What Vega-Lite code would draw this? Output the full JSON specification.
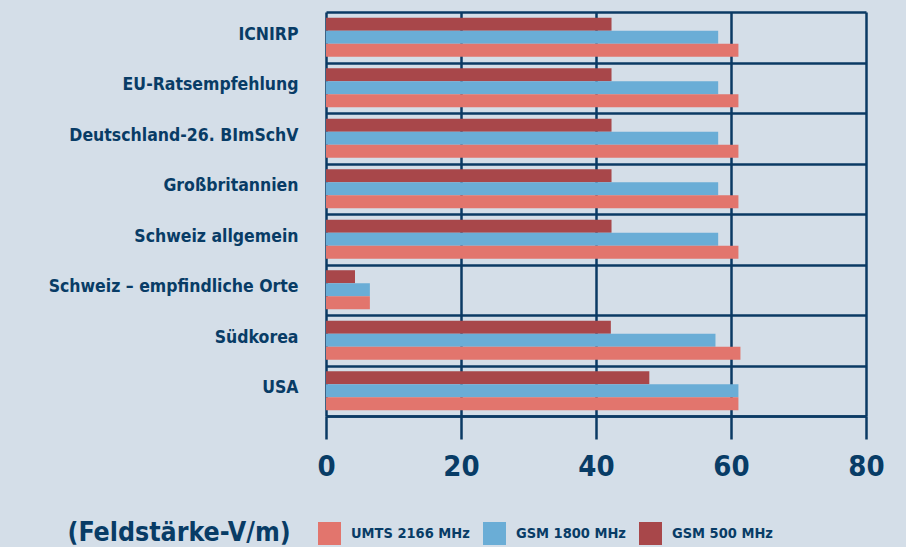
{
  "$schema": "https://vega.github.io/schema/vega-lite/v6.json",
  "width": 540,
  "height": 404,
  "autosize": {"type": "none"},
  "padding": {"left": 326, "top": 12, "right": 40, "bottom": 131},
  "background": "#d4dee8",
  "config": {
    "view": {"stroke": null},
    "font": "DejaVu Sans Condensed"
  },
  "data": {
    "values": [
      {"land": "ICNIRP", "band": "GSM 500 MHz", "v": 42.3},
      {"land": "ICNIRP", "band": "GSM 1800 MHz", "v": 58.1},
      {"land": "ICNIRP", "band": "UMTS 2166 MHz", "v": 61.1},
      {"land": "EU-Ratsempfehlung", "band": "GSM 500 MHz", "v": 42.3},
      {"land": "EU-Ratsempfehlung", "band": "GSM 1800 MHz", "v": 58.1},
      {"land": "EU-Ratsempfehlung", "band": "UMTS 2166 MHz", "v": 61.1},
      {"land": "Deutschland-26. BImSchV", "band": "GSM 500 MHz", "v": 42.3},
      {"land": "Deutschland-26. BImSchV", "band": "GSM 1800 MHz", "v": 58.1},
      {"land": "Deutschland-26. BImSchV", "band": "UMTS 2166 MHz", "v": 61.1},
      {"land": "Großbritannien", "band": "GSM 500 MHz", "v": 42.3},
      {"land": "Großbritannien", "band": "GSM 1800 MHz", "v": 58.1},
      {"land": "Großbritannien", "band": "UMTS 2166 MHz", "v": 61.1},
      {"land": "Schweiz allgemein", "band": "GSM 500 MHz", "v": 42.3},
      {"land": "Schweiz allgemein", "band": "GSM 1800 MHz", "v": 58.1},
      {"land": "Schweiz allgemein", "band": "UMTS 2166 MHz", "v": 61.1},
      {"land": "Schweiz – empfindliche Orte", "band": "GSM 500 MHz", "v": 4.3},
      {"land": "Schweiz – empfindliche Orte", "band": "GSM 1800 MHz", "v": 6.5},
      {"land": "Schweiz – empfindliche Orte", "band": "UMTS 2166 MHz", "v": 6.5},
      {"land": "Südkorea", "band": "GSM 500 MHz", "v": 42.2},
      {"land": "Südkorea", "band": "GSM 1800 MHz", "v": 57.7},
      {"land": "Südkorea", "band": "UMTS 2166 MHz", "v": 61.4},
      {"land": "USA", "band": "GSM 500 MHz", "v": 47.9},
      {"land": "USA", "band": "GSM 1800 MHz", "v": 61.1},
      {"land": "USA", "band": "UMTS 2166 MHz", "v": 61.1}
    ]
  },
  "mark": {"type": "bar", "cornerRadius": 0},
  "encoding": {
    "y": {
      "field": "land",
      "type": "nominal",
      "sort": ["ICNIRP", "EU-Ratsempfehlung", "Deutschland-26. BImSchV", "Großbritannien", "Schweiz allgemein", "Schweiz – empfindliche Orte", "Südkorea", "USA"],
      "scale": {"paddingInner": 0, "paddingOuter": 0},
      "axis": {
        "title": null,
        "domain": false,
        "ticks": false,
        "tickBand": "extent",
        "grid": true,
        "gridColor": "#0b3a64",
        "gridWidth": 2.5,
        "gridOpacity": 1,
        "labelFont": "DejaVu Sans Condensed",
        "labelFontWeight": "bold",
        "labelFontSize": 17.5,
        "labelColor": "#083c66",
        "labelPadding": 28,
        "labelLimit": 400,
        "labelOffset": -3
      }
    },
    "yOffset": {
      "field": "band",
      "type": "nominal",
      "sort": ["GSM 500 MHz", "GSM 1800 MHz", "UMTS 2166 MHz"],
      "scale": {"paddingInner": 0, "paddingOuter": 0.44}
    },
    "x": {
      "field": "v",
      "type": "quantitative",
      "scale": {"domain": [0, 80], "nice": false},
      "axis": {
        "values": [0, 20, 40, 60, 80],
        "title": "(Feldstärke-V/m)",
        "titleFont": "DejaVu Sans Condensed",
        "titleFontWeight": "bold",
        "titleFontSize": 26.5,
        "titleColor": "#083c66",
        "titleX": -259,
        "titleY": 124,
        "titleAlign": "left",
        "titleAnchor": "start",
        "titleBaseline": "alphabetic",
        "grid": true,
        "gridColor": "#0b3a64",
        "gridWidth": 2.5,
        "gridOpacity": 1,
        "domain": true,
        "domainColor": "#0b3a64",
        "domainWidth": 2.5,
        "ticks": true,
        "tickSize": 23,
        "tickWidth": 2.5,
        "tickColor": "#0b3a64",
        "labelFont": "DejaVu Sans Condensed",
        "labelFontWeight": "bold",
        "labelFontSize": 29,
        "labelColor": "#083c66",
        "labelBaseline": "alphabetic",
        "labelPadding": 36,
        "labelFlush": false
      }
    },
    "color": {
      "field": "band",
      "type": "nominal",
      "scale": {
        "domain": ["UMTS 2166 MHz", "GSM 1800 MHz", "GSM 500 MHz"],
        "range": ["#e2756d", "#6aadd6", "#a8474a"]
      },
      "legend": {
        "title": null,
        "orient": "none",
        "direction": "horizontal",
        "legendX": -8,
        "legendY": 510,
        "padding": 0,
        "symbolType": "square",
        "symbolSize": 529,
        "symbolStrokeWidth": 0,
        "symbolOpacity": 1,
        "labelOffset": 10,
        "columnPadding": 13,
        "labelFont": "DejaVu Sans Condensed",
        "labelFontWeight": "bold",
        "labelFontSize": 14.5,
        "labelColor": "#083c66",
        "labelLimit": 300
      }
    }
  }
}
